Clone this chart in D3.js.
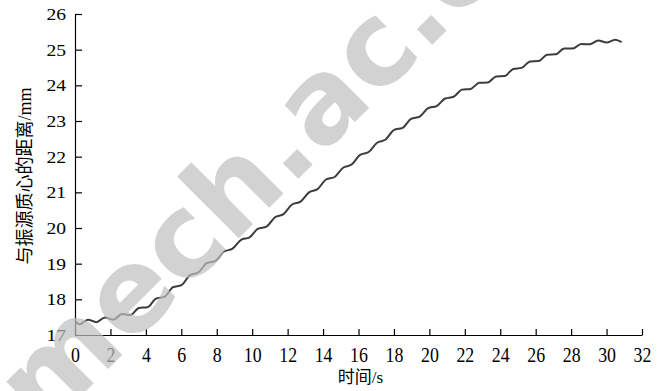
<!DOCTYPE html>
<html>
<head>
<meta charset="utf-8">
<script src="https://cdn.jsdelivr.net/npm/d3@7"></script>
<style>
  body { margin: 0; background: #fff; }
  svg { display: block; }
</style>
</head>
<body>
<div id="chart"></div>
<script>
// time (s) and distance to vibration source (mm)
var timeS = [0.05, 0.25, 0.73, 1.21, 1.69, 2.17, 2.65, 3.13, 3.61, 4.09, 4.57,
  5.05, 5.53, 6.01, 6.49, 6.97, 7.45, 7.93, 8.41, 8.89, 9.37, 9.85,
  10.33, 10.81, 11.29, 11.77, 12.25, 12.73, 13.21, 13.69, 14.17, 14.65,
  15.13, 15.61, 16.09, 16.57, 17.05, 17.53, 18.01, 18.49, 18.97, 19.45,
  19.93, 20.41, 20.89, 21.37, 21.85, 22.33, 22.81, 23.29, 23.77, 24.25,
  24.73, 25.21, 25.69, 26.17, 26.65, 27.13, 27.61, 28.09, 28.57, 29.05,
  29.53, 30.01, 30.49, 30.85];
var distMm = [17.37, 17.30, 17.43, 17.36, 17.49, 17.43, 17.59, 17.56, 17.76, 17.78, 18.02,
  18.07, 18.34, 18.40, 18.68, 18.76, 19.02, 19.08, 19.34, 19.42, 19.67, 19.74,
  19.98, 20.04, 20.30, 20.39, 20.66, 20.74, 21.00, 21.09, 21.36, 21.43,
  21.69, 21.78, 22.05, 22.13, 22.39, 22.48, 22.75, 22.81, 23.06, 23.12,
  23.36, 23.42, 23.63, 23.68, 23.88, 23.90, 24.07, 24.08, 24.25, 24.26,
  24.46, 24.49, 24.67, 24.68, 24.86, 24.87, 25.03, 25.03, 25.16, 25.15,
  25.26, 25.20, 25.28, 25.21];

var xTicks = [0, 2, 4, 6, 8, 10, 12, 14, 16, 18, 20, 22, 24, 26, 28, 30, 32];
var yTicks = [17, 18, 19, 20, 21, 22, 23, 24, 25, 26];
var xLabel = "时间/s";
var yLabel = "与振源质心的距离/mm";
var watermark = "mech.ac.cn";

var svgWidth = 668;
var svgHeight = 391;
var margin = { top: 14, right: 26, bottom: 56, left: 75 };
var chartWidth = svgWidth - margin.left - margin.right;
var chartHeight = svgHeight - margin.top - margin.bottom;

var svg = d3.select("#chart")
  .append("svg")
  .attr("width", svgWidth)
  .attr("height", svgHeight)
  .style("font-family", "'Liberation Serif', 'Noto Sans CJK SC', serif");

var chartGroup = svg.append("g")
  .attr("transform", `translate(${margin.left}, ${margin.top})`);

var xScale = d3.scaleLinear().domain([0, 32]).range([0, chartWidth]);
var yScale = d3.scaleLinear().domain([17, 26]).range([chartHeight, 0]);

// axes, ticks pointing inward
var xAxis = d3.axisBottom(xScale).tickValues(xTicks).tickSizeInner(-6).tickSizeOuter(0).tickPadding(12);
var yAxis = d3.axisLeft(yScale).tickValues(yTicks).tickSizeInner(-7).tickSizeOuter(0).tickPadding(9);

var gx = chartGroup.append("g")
  .attr("transform", `translate(0, ${chartHeight})`)
  .call(xAxis);
var gy = chartGroup.append("g").call(yAxis);

[gx, gy].forEach(function(g) {
  g.selectAll("path, line").attr("stroke", "#000").attr("stroke-width", 1.2);
  g.selectAll("text").attr("fill", "#000").attr("font-family", "'Liberation Serif', serif");
});
gx.selectAll("text").attr("font-size", 21).attr("transform", "scale(0.85,1)");
gy.selectAll("text").attr("font-size", 17).attr("x", -9 / 1.15).attr("transform", "scale(1.15,1)");

// the curve
var line = d3.line()
  .x(function(d, i) { return xScale(timeS[i]); })
  .y(function(d) { return yScale(d); })
  .curve(d3.curveMonotoneX);

chartGroup.append("path")
  .datum(distMm)
  .attr("d", line)
  .attr("fill", "none")
  .attr("stroke", "#3c3c3c")
  .attr("stroke-width", 2);

// axis titles
svg.append("text")
  .attr("x", margin.left + chartWidth / 2 + 2)
  .attr("y", 383)
  .attr("text-anchor", "middle")
  .attr("font-size", 17)
  .text(xLabel);

svg.append("text")
  .attr("transform", "translate(31, 176) rotate(-90)")
  .attr("text-anchor", "middle")
  .attr("font-size", 18)
  .text(yLabel);

// watermark laid over the figure
svg.append("text")
  .attr("transform", "translate(44, 433) rotate(-45)")
  .attr("font-family", "'DejaVu Sans', sans-serif")
  .attr("font-weight", "bold")
  .attr("font-size", 115)
  .attr("fill", "#c0c0c0")
  .attr("opacity", 0.7)
  .text(watermark);
</script>
</body>
</html>
